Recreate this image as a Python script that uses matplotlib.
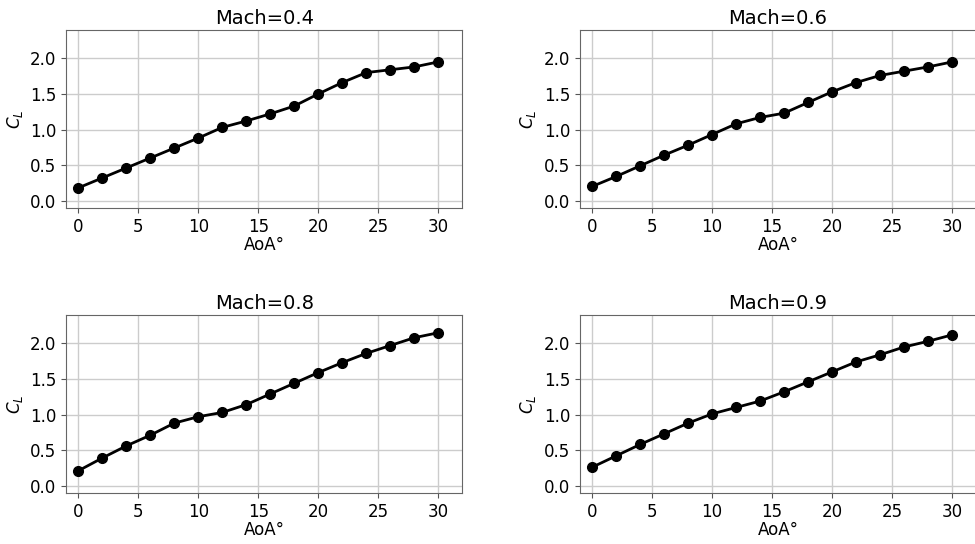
import matplotlib.pyplot as plt
import numpy as np

aoa = np.arange(0, 31, 2)

cl_m04 = [0.18, 0.32, 0.46, 0.60, 0.74, 0.88, 1.03, 1.12, 1.22, 1.33,
          1.50, 1.66, 1.80, 1.84, 1.88, 1.95]
cl_m06 = [0.20, 0.34, 0.49, 0.64, 0.78, 0.93, 1.08, 1.17, 1.23, 1.38,
          1.53, 1.66, 1.76, 1.82, 1.88, 1.95]
cl_m08 = [0.21, 0.39, 0.56, 0.71, 0.88, 0.97, 1.03, 1.14, 1.29, 1.44,
          1.59, 1.73, 1.86, 1.97, 2.08, 2.15]
cl_m09 = [0.26, 0.42, 0.58, 0.73, 0.88, 1.01, 1.10, 1.19, 1.32, 1.46,
          1.60, 1.74, 1.84, 1.95, 2.03, 2.12]

machs = ["0.4", "0.6", "0.8", "0.9"]
series = [cl_m04, cl_m06, cl_m08, cl_m09]

fig = plt.figure(figsize=(9.75, 5.44), dpi=100)

# axes boxes in figure fractions (left, bottom, width, height)
w, h = 0.406, 0.327
boxes = [
    (0.068, 0.618, w, h),
    (0.595, 0.618, w, h),
    (0.068, 0.094, w, h),
    (0.595, 0.094, w, h),
]

for box, mach, cl in zip(boxes, machs, series):
    ax = fig.add_axes(box)
    ax.plot(aoa, cl, "-o", color="black", linewidth=2, markersize=7)
    ax.set_title(f"Mach={mach}", fontsize=14, pad=4)
    ax.set_xlabel("AoA°", fontsize=12, labelpad=0)
    ax.set_ylabel("$C_L$", fontsize=12)
    ax.set_xlim(-1, 32)
    ax.set_ylim(-0.1, 2.4)
    ax.set_xticks([0, 5, 10, 15, 20, 25, 30])
    ax.set_yticks([0.0, 0.5, 1.0, 1.5, 2.0])
    ax.tick_params(labelsize=12, color="#555555")
    ax.grid(True, color="#cccccc", linewidth=1)
    for sp in ax.spines.values():
        sp.set_color("#666666")

plt.savefig("out.png", dpi=100)
